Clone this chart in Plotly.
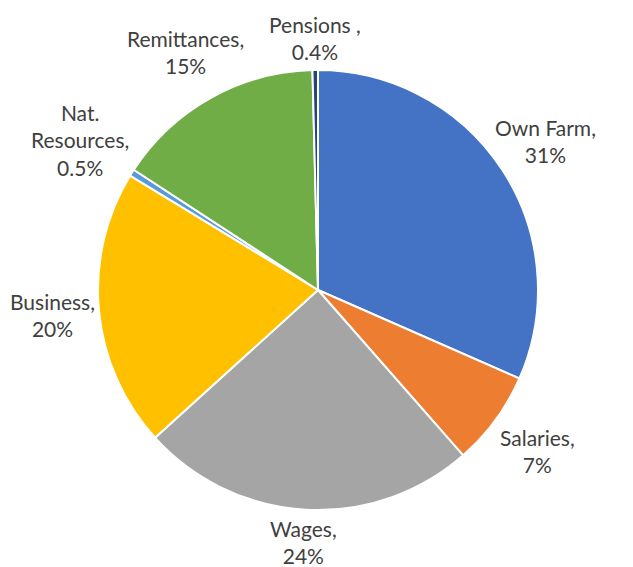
import math
import plotly.graph_objects as go

labels = ["Own Farm", "Salaries", "Wages", "Business", "Nat. Resources", "Remittances", "Pensions"]
values = [31.4, 6.9, 24.6, 20.3, 0.5, 15.3, 0.4]
label_text = ["Own Farm,<br>31%", "Salaries,<br>7%", "Wages,<br>24%", "Business,<br>20%",
              "Nat.<br>Resources,<br>0.5%", "Remittances,<br>15%", "Pensions ,<br>0.4%"]
colors = ["#4472C4", "#ED7D31", "#A5A5A5", "#FFC000", "#5B9BD5", "#70AD47", "#264478"]

PAGE_OFF = 8  # page body margin offsets the figure in the window
W, H = 633 - 2 * PAGE_OFF, 567 - PAGE_OFF - 2
CX, CY, R = 318 - PAGE_OFF, 290 - PAGE_OFF, 220  # pie centre / radius in figure px
FONT = "Lato"
FSIZE = 21
LINE_H = 24
CHAR_W = 8.4
GAP = 7

dom_x = [(CX - R) / W, (CX + R) / W]
dom_y = [1 - (CY + R) / H, 1 - (CY - R) / H]

fig = go.Figure(go.Pie(
    labels=labels,
    values=values,
    textinfo="none",
    sort=False,
    direction="clockwise",
    rotation=0,
    marker=dict(colors=colors, line=dict(color="white", width=2)),
    showlegend=False,
    automargin=False,
    domain=dict(x=dom_x, y=dom_y),
    hoverinfo="label+percent",
))

# data labels placed just outside each slice's mid-angle
total = sum(values)
cum = 0.0
annotations = []
for v, t in zip(values, label_text):
    mid = (cum + v / 2) / total * 2 * math.pi
    cum += v
    lines = t.split("<br>")
    hw = max(len(s) for s in lines) * CHAR_W / 2
    hh = len(lines) * LINE_H / 2
    s, c = math.sin(mid), math.cos(mid)
    d = R + GAP + hw * abs(s) + hh * abs(c)
    px = CX + d * s
    py = CY - d * c
    annotations.append(dict(
        x=px / W, y=1 - py / H, xref="paper", yref="paper",
        text=t, showarrow=False, xanchor="center", yanchor="middle",
        align="center",
        font=dict(family=FONT, size=FSIZE, color="#404040"),
    ))

fig.update_layout(
    width=W, height=H,
    margin=dict(l=0, r=0, t=0, b=0),
    paper_bgcolor="white",
    plot_bgcolor="white",
    annotations=annotations,
)

fig.write_html("out.html")
